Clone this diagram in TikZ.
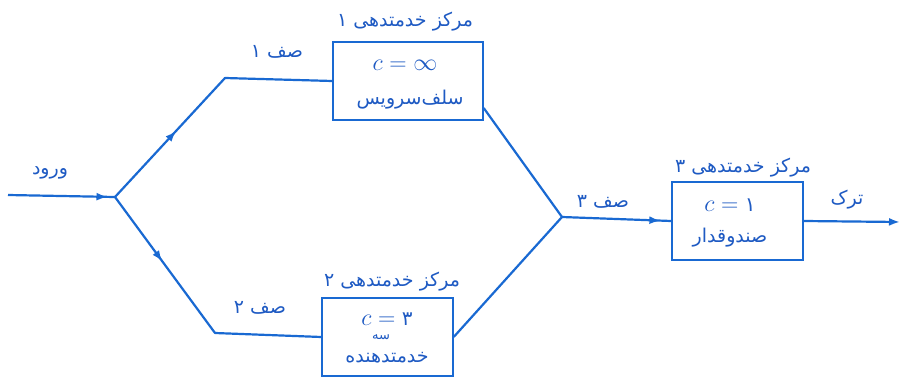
\RequirePackage{fix-cm}
\documentclass[tikz,border=0pt]{standalone}
\usepackage{fontspec}
\usetikzlibrary{arrows.meta,decorations.markings}
\TeXXeTstate=1
\newfontfamily\fa[Script=Arabic]{DejaVu Sans}
\definecolor{ln}{RGB}{25,105,210}
\definecolor{tx}{RGB}{30,90,195}
\tikzset{
  box/.style={draw=ln, line width=1.4pt, minimum width=#1, minimum height=78pt,
    inner sep=0pt},
  wire/.style={draw=ln, line width=2.2pt, line join=round},
  midarrow/.style={postaction={decorate}, decoration={markings,
    mark=at position #1 with {\arrow[ln]{Latex[length=11pt,width=8pt]}}}},
  lbl/.style={text=tx, font=\fa\fontsize{19}{22}\selectfont, inner sep=0pt},
  small/.style={text=tx, font=\fa\fontsize{13}{14}\selectfont, inner sep=0pt},
  mathtx/.style={text=tx, font=\fontsize{24}{26}\selectfont, inner sep=0pt},
}
\begin{document}
\begin{tikzpicture}[x=1pt,y=1pt]
\fill[white] (0,0) rectangle (903,-383);
\useasboundingbox (0,0) rectangle (903,-383);

% boxes
\node[box=150pt] (s1) at (408,-81) {};
\node[box=131pt] (s2) at (387.5,-337) {};
\node[box=131pt] (s3) at (737.5,-221) {};

% box contents
\node[mathtx] (s1a) at (405,-65) {$c=\infty$};
\node[lbl] (s1b) at (410,-100) {\beginR سلف‌سرویس\endR};
\node[mathtx] (s2a) at (387,-319) {$c=$\;{\fa\fontsize{20}{22}\selectfont ۳}};
\node[small] (s2b) at (381,-337) {\beginR سه\endR};
\node[lbl] (s2c) at (387,-358) {\beginR خدمتدهنده\endR};
\node[mathtx] (s3a) at (730,-205) {$c=$\;{\fa\fontsize{20}{22}\selectfont ۱}};
\node[lbl] (s3b) at (730,-238) {\beginR صندوقدار\endR};

% junctions
\coordinate (in) at (8,-195);
\coordinate (split) at (115,-197);
\coordinate (c1) at (225,-78);
\coordinate (c2) at (215,-333);
\coordinate (merge) at (562,-217);
\coordinate (out) at (900,-222);

% connectors
\draw[wire, midarrow=0.93] (in) -- (split);
\draw[wire, midarrow=90pt] (split) -- (c1) -- (s1.west);
\draw[wire, midarrow=80pt] (split) -- (c2) -- (s2.west);
\draw[wire] ([yshift=-27pt]s1.east) -- (merge) -- (s2.east);
\draw[wire, midarrow=0.9] (merge) -- (s3.west);
\draw[wire, -{Latex[length=11pt,width=8pt]}] (s3.east) -- (out);

% labels
\node[lbl] (h1) at (405,-22) {\beginR مرکز خدمتدهی ۱\endR};
\node[lbl] (h2) at (392,-282) {\beginR مرکز خدمتدهی ۲\endR};
\node[lbl] (h3) at (743,-168) {\beginR مرکز خدمتدهی ۳\endR};
\node[lbl] (q1) at (277,-52) {\beginR صف ۱\endR};
\node[lbl] (q2) at (260,-308) {\beginR صف ۲\endR};
\node[lbl] (q3) at (603,-202) {\beginR صف ۳\endR};
\node[lbl] (arr) at (50,-173) {\beginR ورود\endR};
\node[lbl] (dep) at (847,-200) {\beginR ترک\endR};
\end{tikzpicture}
\end{document}
